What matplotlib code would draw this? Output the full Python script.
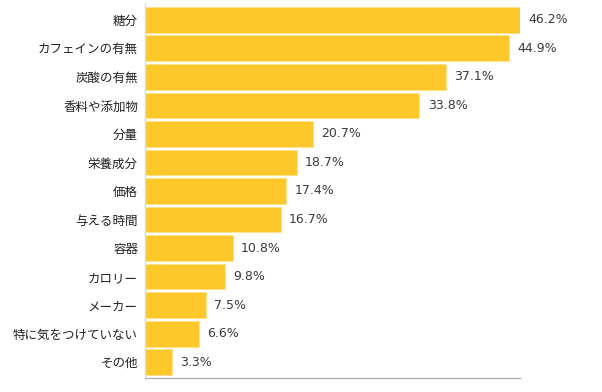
import matplotlib
matplotlib.use("Agg")
import matplotlib.pyplot as plt

plt.rcParams["font.family"] = ["Noto Sans CJK JP", "DejaVu Sans"]

categories = ["糖分", "カフェインの有無", "炭酸の有無", "香料や添加物", "分量",
              "栄養成分", "価格", "与える時間", "容器", "カロリー", "メーカー",
              "特に気をつけていない", "その他"]
values = [46.2, 44.9, 37.1, 33.8, 20.7, 18.7, 17.4, 16.7, 10.8, 9.8, 7.5, 6.6, 3.3]

fig = plt.figure(figsize=(6.02, 3.92), dpi=100)
ax = fig.add_axes([145 / 602, 14 / 392, 375 / 602, 374 / 392])

n = len(categories)
ypos = list(range(n))[::-1]
ax.barh(ypos, values, height=0.9, color="#FFC82A", edgecolor="#FFE08A", linewidth=0.6)

for y, v in zip(ypos, values):
    ax.annotate(f"{v}%", (v, y), xytext=(6, 0), textcoords="offset points",
                va="center", ha="left", fontsize=9, color="#3a3a3a",
                family="DejaVu Sans")

ax.set_yticks(ypos)
ax.set_yticklabels(categories, fontsize=9, color="#222222")
ax.tick_params(axis="y", length=0, pad=5)
ax.set_xticks([])
ax.set_xlim(0, 46.2)
ax.set_ylim(-0.55, n - 0.45)

for s in ["top", "right"]:
    ax.spines[s].set_visible(False)
ax.spines["left"].set_color("#d8dce4")
ax.spines["bottom"].set_color("#b0b0b0")
ax.spines["left"].set_linewidth(1.0)
ax.spines["bottom"].set_linewidth(1.0)

fig.savefig("out.png", dpi=100)
